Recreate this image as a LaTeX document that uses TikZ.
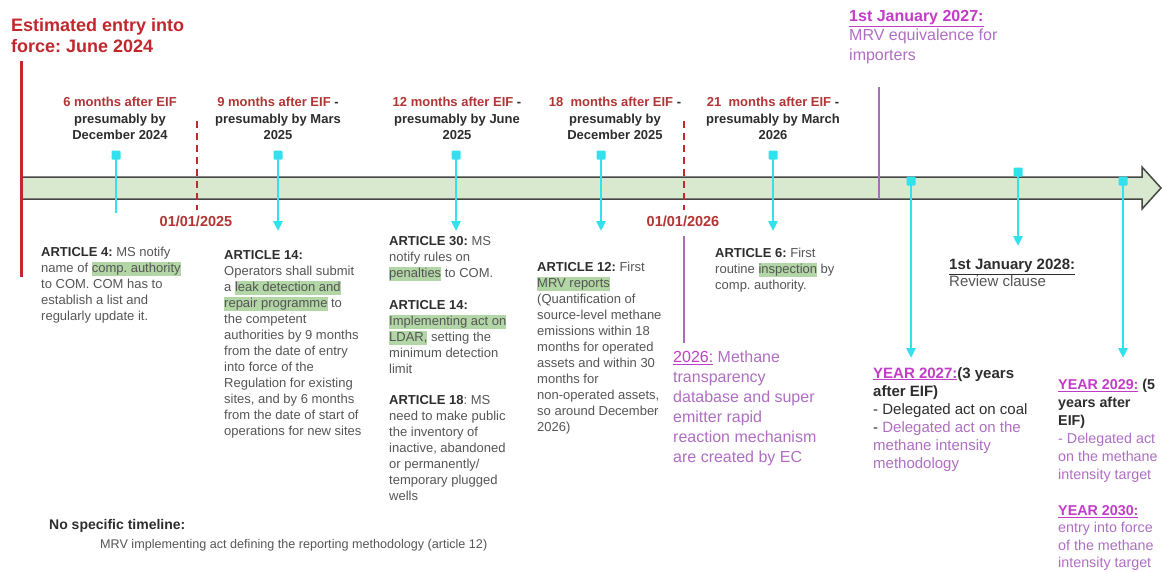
\documentclass[tikz,border=0pt]{standalone}
\usepackage{fontspec}
\setmainfont{Liberation Sans}
\usetikzlibrary{arrows.meta}
\frenchspacing
\definecolor{titlered}{RGB}{192,40,45}
\definecolor{hdrred}{RGB}{178,52,52}
\definecolor{bodygray}{RGB}{85,85,85}
\definecolor{darktext}{RGB}{45,45,45}
\definecolor{barfill}{RGB}{216,233,208}
\definecolor{barline}{RGB}{70,70,70}
\definecolor{cyanm}{RGB}{50,225,235}
\definecolor{hlgreen}{RGB}{178,214,165}
\definecolor{purpA}{RGB}{195,60,200}
\definecolor{purpB}{RGB}{175,110,195}
\definecolor{purpline}{RGB}{170,110,185}
\newcommand\hlg[1]{{\setlength{\fboxsep}{0pt}\colorbox{hlgreen}{\rule[-3.5pt]{0pt}{14pt}#1}}}
\newcommand\arthead[1]{{\bfseries\color{darktext}#1}}
\begin{document}
\begin{tikzpicture}[x=1pt,y=-1pt,
  art/.style={anchor=north west, inner sep=0pt, align=left, text=bodygray, font=\fontsize{13}{16}\selectfont},
  hdr/.style={anchor=north, inner sep=0pt, align=center, text=darktext, font=\bfseries\fontsize{13}{16.5}\selectfont},
  datelbl/.style={inner sep=0pt, text=hdrred, font=\bfseries\fontsize{14.5}{16}\selectfont},
  sq/.style={draw=none, fill=cyanm, minimum size=9pt, inner sep=0pt, rounded corners=1pt},
  cyl/.style={draw=cyanm, line width=2.5pt},
  cya/.style={draw=cyanm, line width=2.5pt, -{Triangle[width=9pt,length=10pt]}},
  reddash/.style={draw=titlered, line width=2pt, dash pattern=on 7pt off 5pt},
  purp/.style={anchor=north west, inner sep=0pt, align=left, text=purpB}
]
\useasboundingbox (0,0) rectangle (1162,571);
\clip (0,0) rectangle (1162,571);

% title and EIF line
\node[anchor=north west, inner sep=0pt, align=left, text=titlered, font=\bfseries\fontsize{18}{21}\selectfont] (title) at (11,18) {Estimated entry into\\force: June 2024};
\draw[titlered, line width=3pt] (21,61) -- (21,277);

% timeline bar
\draw[fill=barfill, draw=barline, line width=1.5pt] (21,177) -- (1142,177) -- (1142,167) -- (1161,188) -- (1142,209) -- (1142,199) -- (21,199) -- cycle;
\draw[titlered, line width=3pt] (21,176) -- (21,200);

% dashed year markers
\draw[reddash] (197,121) -- (197,210);
\draw[reddash] (684,121) -- (684,210);
\node[datelbl] (d25) at (196,221) {01/01/2025};
\node[datelbl] (d26) at (683,221) {01/01/2026};

% purple lines
\draw[purpline, line width=2pt] (684,236) -- (684,343);
\draw[purpline, line width=1.5pt] (879,87) -- (879,199);

% headers
\node[hdr] (h1) at (120,97) {{\color{hdrred}6 months after EIF}\\presumably by\\December 2024};
\node[hdr] (h2) at (278,97) {{\color{hdrred}9 months after EIF} -\\presumably by Mars\\2025};
\node[hdr] (h3) at (457,97) {{\color{hdrred}12 months after EIF} -\\presumably by June\\2025};
\node[hdr] (h4) at (615,97) {{\color{hdrred}18\ \ months after EIF} -\\presumably by\\December 2025};
\node[hdr] (h5) at (773,97) {{\color{hdrred}21\ \ months after EIF} -\\presumably by March\\2026};

% cyan markers
\node[sq] (m1) at (116,155) {};
\coordinate (e1) at (116,213);
\draw[cyl] (m1.center) -- (e1);
\node[sq] (m2) at (278,155) {};
\coordinate (e2) at (278,231);
\draw[cya] (m2.center) -- (e2);
\node[sq] (m3) at (456,155) {};
\coordinate (e3) at (456,231);
\draw[cya] (m3.center) -- (e3);
\node[sq] (m4) at (601,155) {};
\coordinate (e4) at (601,231);
\draw[cya] (m4.center) -- (e4);
\node[sq] (m5) at (773,155) {};
\coordinate (e5) at (773,231);
\draw[cya] (m5.center) -- (e5);
\node[sq] (m6) at (911,181) {};
\coordinate (e6) at (911,358);
\draw[cya] (m6.center) -- (e6);
\node[sq] (m7) at (1018,172) {};
\coordinate (e7) at (1018,246);
\draw[cya] (m7.center) -- (e7);
\node[sq] (m8) at (1123,181) {};
\coordinate (e8) at (1123,358);
\draw[cya] (m8.center) -- (e8);

% articles
\node[art] (a4) at (41,247) {\arthead{ARTICLE 4:} MS notify\\name of \hlg{comp. authority}\\to COM. COM has to\\establish a list and\\regularly update it.};
\node[art] (a14) at (224,250) {\arthead{ARTICLE 14:}\\Operators shall submit\\a \hlg{leak detection and}\\\hlg{repair programme} to\\the competent\\authorities by 9 months\\from the date of entry\\into force of the\\Regulation for existing\\sites, and by 6 months\\from the date of start of\\operations for new sites};
\node[art] (a30) at (389,236) {\arthead{ARTICLE 30:} MS\\notify rules on\\\hlg{penalties} to COM.};
\node[art] (a14b) at (389,300) {\arthead{ARTICLE 14:}\\\hlg{Implementing act on}\\\hlg{LDAR,} setting the\\minimum detection\\limit};
\node[art] (a18) at (389,395) {\arthead{ARTICLE 18}: MS\\need to make public\\the inventory of\\inactive, abandoned\\or permanently/\\temporary plugged\\wells};
\node[art] (a12) at (537,262) {\arthead{ARTICLE 12:} First\\\hlg{MRV reports}\\(Quantification of\\source-level methane\\emissions within 18\\months for operated\\assets and within 30\\months for\\non-operated assets,\\so around December\\2026)};
\node[art] (a6) at (715,248) {\arthead{ARTICLE 6:} First\\routine \hlg{inspection} by\\comp. authority.};

% purple blocks
\node[purp, font=\fontsize{16}{20}\selectfont] (p2026) at (673,351) {{\color{purpA}\underline{2026:}} Methane\\transparency\\database and super\\emitter rapid\\reaction mechanism\\are created by EC};
\node[purp, font=\fontsize{16}{19.5}\selectfont] (p2027) at (849,10) {{\bfseries\color{purpA}\underline{1st January 2027:}}\\MRV equivalence for\\importers};
\node[anchor=north west, inner sep=0pt, align=left, text=bodygray, font=\fontsize{15}{17}\selectfont] (r2028) at (949,259) {{\bfseries\color{darktext}\underline{1st January 2028:}}\\Review clause};
\node[purp, font=\fontsize{15}{18}\selectfont] (y2027) at (873,367) {{\bfseries\color{purpA}\underline{YEAR 2027:}}{\bfseries\color{darktext}(3 years}\\{\bfseries\color{darktext}after EIF)}\\{\color{darktext}- Delegated act on coal}\\{\color{darktext}-} Delegated act on the\\methane intensity\\methodology};
\node[purp, font=\fontsize{14.3}{18}\selectfont] (y2029) at (1058,379) {{\bfseries\color{purpA}\underline{YEAR 2029:}} {\bfseries\color{darktext}(5}\\{\bfseries\color{darktext}years after}\\{\bfseries\color{darktext}EIF)}\\- Delegated act\\on the methane\\intensity target};
\node[purp, font=\fontsize{14.3}{17.5}\selectfont] (y2030) at (1058,505) {{\bfseries\color{purpA}\underline{YEAR 2030:}}\\entry into force\\of the methane\\intensity target};

% no specific timeline
\node[anchor=north west, inner sep=0pt, text=darktext, font=\bfseries\fontsize{14}{16}\selectfont] (nst) at (49,519) {No specific timeline:};
\node[anchor=north west, inner sep=0pt, text=bodygray, font=\fontsize{12.6}{16}\selectfont] (mrv) at (100,539) {MRV implementing act defining the reporting methodology (article 12)};
\end{tikzpicture}
\end{document}
